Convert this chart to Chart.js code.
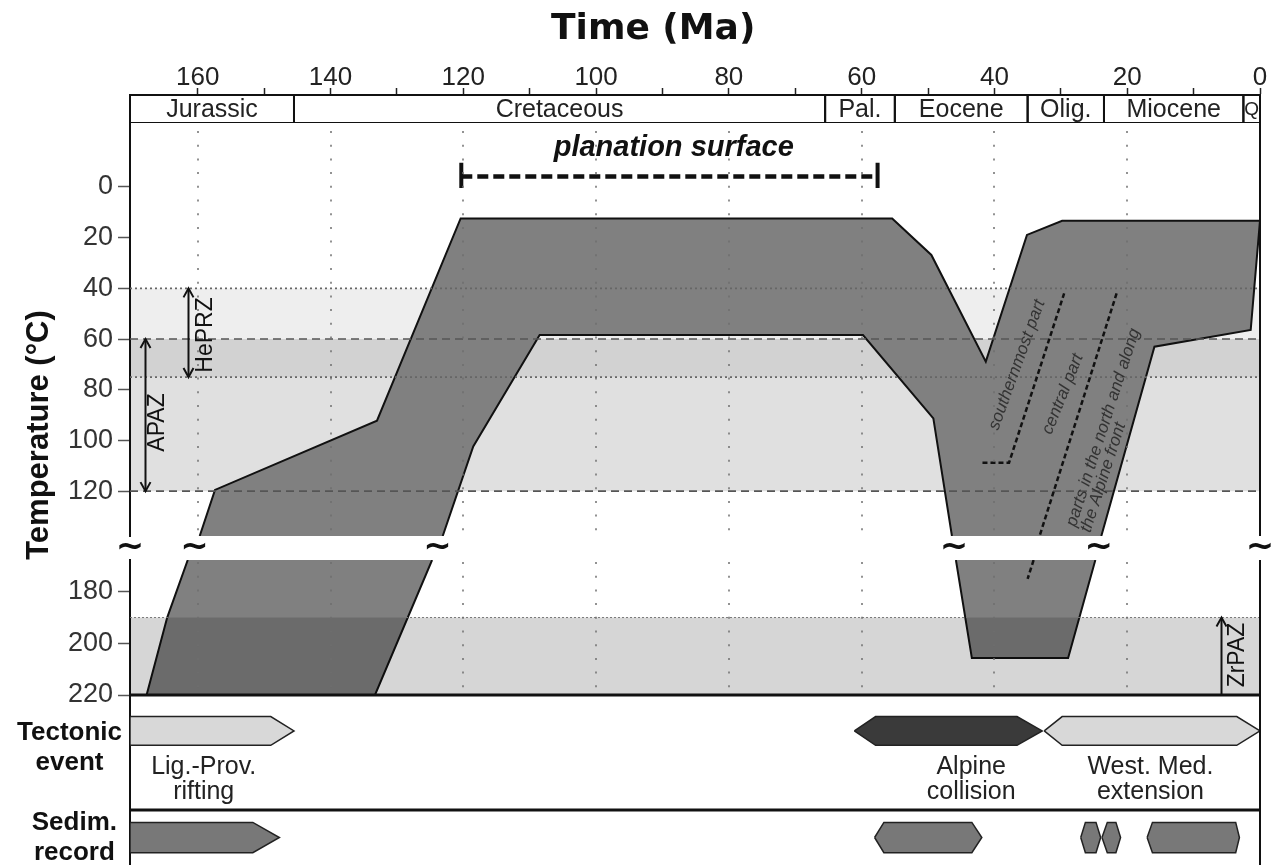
<!DOCTYPE html>
<html>
<head>
<meta charset="utf-8">
<title>Thermal history (Ma / °C)</title>
<script src="https://cdn.jsdelivr.net/npm/chart.js"></script>
<style>
  html, body { margin: 0; padding: 0; background: #fff; }
  #chart { display: block; width: 1273px; height: 865px; }
</style>
</head>
<body>
<canvas id="chart" width="1273" height="865"></canvas>
<script>
// ---- time axis (Ma, reversed) ----
const timeTicks = [0, 10, 20, 30, 40, 50, 60, 70, 80, 90, 100, 110, 120, 130, 140, 150, 160];
const gridMa = [160, 140, 120, 100, 80, 60, 40, 20];

// ---- stratigraphic periods ----
const periodNames = ['Jurassic', 'Cretaceous', 'Pal.', 'Eocene', 'Olig.', 'Miocene', 'Q'];
const periodFrom  = [170.2, 145.5, 65.5, 55, 35, 23.5, 2.5];
const periodTo    = [145.5, 65.5, 55, 35, 23.5, 2.5, 0];

// ---- temperature ticks ----
const tempTicksUpper = [0, 20, 40, 60, 80, 100, 120];
const tempTicksLower = [180, 200, 220];

// ---- partial retention / annealing zones (°C) ----
const zoneNames  = ['HePRZ', 'APAZ', 'ZrPAZ'];
const zoneTop    = [40, 60, 190];
const zoneBottom = [75, 120, 220];
const zoneArrowMa = [161.5, 167.9, 5.8];
const zoneLabelMa = [158.8, 166.1, 3.3];
const zoneLabelT  = [58.4, 92.9, 204.5];

// ---- cooling path, upper panel (Ma / °C) ----
const pathMa = [159.7, 157.4, 133.0, 120.4, 55.4, 49.5, 41.3, 35.1, 29.8, 0, 1.4, 15.9, 23.9,
                46.4, 49.2, 59.8, 108.5, 118.5, 123.1];
const pathT  = [137.7, 119.5, 92.2, 12.4, 12.4, 26.8, 68.9, 18.9, 13.3, 13.3, 56.4, 63.0, 137.7,
                137.7, 91.3, 58.4, 58.4, 102.4, 137.7];
const pathBreak = 13; // outline gap between index 12 and 13 (axis break)

// ---- cooling path, lower panel ----
const lowLeftMa = [124.7, 133.3, 167.7, 164.6, 161.5];
const lowLeftT  = [167.7, 220, 220, 190, 167.7];
const lowAlpMa  = [24.8, 28.9, 43.4, 45.8];
const lowAlpT   = [167.7, 205.7, 205.7, 167.7];

// ---- regional sub-paths (dashed) ----
const southMa = [41.8, 37.8, 29.5];
const southT  = [108.8, 108.8, 42];
const northMa = [21.6, 33.2];
const northT  = [42, 137.7];
const northLowMa = [34.1, 35.0];
const northLowT  = [167.7, 175];
const partLabels = ['southernmost part', 'central part', 'parts in the north and along', 'the Alpine front'];
const partMa  = [36.6, 29.7, 23.6, 23.6];
const partT   = [70.2, 81.7, 94.9, 114.6];
const partRot = [-70, -68, -72, -72];

// ---- planation surface ----
const planMa = [120.3, 57.6];
const planT = -4.1;

// ---- tectonic events: [left tip, left corner, right corner, right tip] ----
const tectShapes = [[170.2, 170.2, 149, 145.5], [61.1, 57.9, 36.6, 32.8], [32.5, 29.8, 3.5, 0]];
const tectColors = ['#d8d8d8', '#3a3a3a', '#d8d8d8'];
const tectLabels = [['Lig.-Prov.', 'rifting'], ['Alpine', 'collision'], ['West. Med.', 'extension']];
const tectLabelMa = [159.1, 43.5, 16.5];

// ---- sedimentary record ----
const sedShapes = [[170.2, 170.2, 151.7, 147.7], [58.05, 56.65, 43.4, 41.9], [27.0, 26.3, 24.7, 24.0],
                   [23.8, 23.0, 21.7, 21.0], [17.0, 16.2, 3.66, 3.1]];

// axis break marks (Ma)
const breakMa = [170.2, 160.5, 123.9, 46.1, 24.3, 0];

const SANS = "'Liberation Sans', Arial, sans-serif";

// ---- helpers ----
const pts = (xs, ys) => xs.map((x, i) => ({ x: x, y: ys[i] }));
const ring = p => p.concat([p[0]]);
const rect = (x0, x1, y0, y1) => [{x: x0, y: y0}, {x: x1, y: y0}, {x: x1, y: y1}, {x: x0, y: y1}, {x: x0, y: y0}];
const hline = (y) => [{x: 170.2, y: y}, {x: 0, y: y}];
function hexagon(h, top, mid, bot){
  return [{x: h[0], y: mid}, {x: h[1], y: top}, {x: h[2], y: top}, {x: h[3], y: mid},
          {x: h[2], y: bot}, {x: h[1], y: bot}, {x: h[0], y: mid}];
}

const datasets = [];
function addSet(yAxisID, data, o){
  datasets.push(Object.assign({
    type: 'line', xAxisID: 'x', yAxisID: yAxisID, data: data,
    pointRadius: 0, pointHoverRadius: 0, borderWidth: 0, fill: false, tension: 0,
    borderColor: '#111', backgroundColor: 'transparent'
  }, o));
}

// zone bands
addSet('yT', rect(170.2, 0, zoneTop[0], zoneBottom[0]), { fill: 'shape', backgroundColor: 'rgba(0,0,0,0.065)', order: 20 });
addSet('yT', rect(170.2, 0, zoneTop[1], zoneBottom[1]), { fill: 'shape', backgroundColor: 'rgba(0,0,0,0.12)', order: 20 });
addSet('yL', rect(170.2, 0, zoneTop[2], zoneBottom[2]), { fill: 'shape', backgroundColor: 'rgba(0,0,0,0.16)', order: 12 });

// main path: fill + outline (outline broken at the axis break)
const mainPts = pts(pathMa, pathT);
addSet('yT', ring(mainPts), { fill: 'shape', backgroundColor: '#808080', order: 16 });
addSet('yT', mainPts.slice(0, pathBreak).concat([{x: 35, y: null}], mainPts.slice(pathBreak)),
       { borderWidth: 2, order: 15 });
addSet('yL', pts(lowLeftMa, lowLeftT), { fill: 'shape', backgroundColor: '#808080', borderWidth: 2, order: 15 });
addSet('yL', pts(lowAlpMa, lowAlpT), { fill: 'shape', backgroundColor: '#808080', borderWidth: 2, order: 15 });

// zone boundary lines
addSet('yT', hline(zoneTop[0]), { borderWidth: 1.6, borderColor: '#666', borderDash: [2, 3], order: 10 });
addSet('yT', hline(zoneBottom[0]), { borderWidth: 1.6, borderColor: '#666', borderDash: [2, 3], order: 10 });
addSet('yT', hline(zoneTop[1]), { borderWidth: 1.6, borderColor: '#555', borderDash: [8, 5], order: 10 });
addSet('yT', hline(zoneBottom[1]), { borderWidth: 1.6, borderColor: '#555', borderDash: [8, 5], order: 10 });
addSet('yL', hline(zoneTop[2]), { borderWidth: 1, borderColor: '#777', borderDash: [2, 2], order: 10 });

// regional sub-paths
addSet('yT', pts(southMa, southT), { borderWidth: 2.5, borderDash: [5, 3], order: 5 });
addSet('yT', pts(northMa, northT), { borderWidth: 2.5, borderDash: [5, 3], order: 5 });
addSet('yL', pts(northLowMa, northLowT), { borderWidth: 2.5, borderDash: [5, 3], order: 5 });

// planation surface bar with end caps
addSet('yT', pts(planMa, [planT, planT]), { borderWidth: 4.5, borderDash: [11, 5], order: 5 });
planMa.forEach(m => addSet('yT', pts([m, m], [-9.6, 0.4]), { borderWidth: 4, order: 5 }));

// period boxes
periodNames.forEach((n, i) => addSet('yP', rect(periodFrom[i], periodTo[i], 0, 1), { borderWidth: 2, order: 5 }));

// tectonic events and sedimentary record
tectShapes.forEach((h, i) => addSet('yE', hexagon(h, 0.75, 1.25, 1.75),
  { fill: 'shape', backgroundColor: tectColors[i], borderColor: '#222', borderWidth: 1.5, order: 5 }));
sedShapes.forEach(h => addSet('yS', hexagon(h, 0.45, 1.0, 1.55),
  { fill: 'shape', backgroundColor: '#787878', borderColor: '#222', borderWidth: 1.5, order: 5 }));

// ---- drawing helpers for the overlay ----
function txt(ctx, s, x, y, font, align, color, rot){
  ctx.save();
  ctx.translate(x, y);
  if(rot) ctx.rotate(rot * Math.PI / 180);
  ctx.font = font;
  ctx.fillStyle = color || '#111';
  ctx.textAlign = align || 'center';
  ctx.textBaseline = 'middle';
  ctx.fillText(s, 0, 0);
  ctx.restore();
}
function seg(ctx, x0, y0, x1, y1){
  ctx.beginPath(); ctx.moveTo(x0, y0); ctx.lineTo(x1, y1); ctx.stroke();
}
function head(ctx, x, y, dir){ // dir -1 = pointing up, 1 = pointing down
  ctx.beginPath(); ctx.moveTo(x - 5, y - dir * 9); ctx.lineTo(x, y); ctx.lineTo(x + 5, y - dir * 9); ctx.stroke();
}

const overlay = {
  id: 'overlay',
  afterDatasetsDraw(chart){
    const {ctx, scales: s, chartArea: a} = chart;
    const X = v => s.x.getPixelForValue(v);
    ctx.save();
    // dotted vertical grid, on top of the paths
    ctx.strokeStyle = 'rgba(110,110,110,0.75)';
    ctx.lineWidth = 2;
    ctx.setLineDash([2, 11.7]);
    gridMa.forEach(v => {
      const x = Math.round(X(v));
      seg(ctx, x, s.yT.top + 8, x, s.yT.bottom);
      seg(ctx, x, s.yL.top + 2, x, s.yL.bottom);
    });
    ctx.setLineDash([]);
    // frame
    ctx.strokeStyle = '#111';
    ctx.lineWidth = 3;
    seg(ctx, a.left, s.yL.bottom, a.right, s.yL.bottom);
    seg(ctx, a.left, s.yE.bottom, a.right, s.yE.bottom);
    ctx.lineWidth = 2;
    seg(ctx, a.right, s.yP.top, a.right, s.yT.bottom);
    seg(ctx, a.right, s.yL.top, a.right, s.yS.bottom);
    ctx.restore();
  },
  afterDraw(chart){
    const {ctx, scales: s} = chart;
    const X = v => s.x.getPixelForValue(v);
    ctx.save();
    // titles
    txt(ctx, 'Time (Ma)', X(91.4), 30, "bold 36px 'DejaVu Sans', sans-serif");
    txt(ctx, 'Temperature (°C)', 39, 435, 'bold 31px ' + SANS, 'center', '#111', -90);

    // period names
    const py = (s.yP.top + s.yP.bottom) / 2 + 1;
    periodNames.forEach((n, i) => {
      const f = n === 'Q' ? '19px ' + SANS : '25px ' + SANS;
      txt(ctx, n, X((periodFrom[i] + periodTo[i]) / 2), py, f, 'center', '#222');
    });

    // planation surface label
    txt(ctx, 'planation surface', X(88.3), s.yT.getPixelForValue(-15.4), 'italic bold 29px ' + SANS);

    // sub-path labels
    partLabels.forEach((l, i) => {
      txt(ctx, l, X(partMa[i]), s.yT.getPixelForValue(partT[i]), 'italic 17px ' + SANS, 'center', '#333', partRot[i]);
    });

    // zone arrows and labels
    ctx.strokeStyle = '#111';
    ctx.lineWidth = 2;
    zoneNames.forEach((z, i) => {
      const sc = i < 2 ? s.yT : s.yL;
      const x = Math.round(X(zoneArrowMa[i])) + 0.5;
      const y0 = sc.getPixelForValue(zoneTop[i]), y1 = sc.getPixelForValue(zoneBottom[i]);
      seg(ctx, x, y0, x, y1);
      head(ctx, x, y0, -1);
      if(i < 2) head(ctx, x, y1, 1);
      txt(ctx, z, X(zoneLabelMa[i]), sc.getPixelForValue(zoneLabelT[i]), '23px ' + SANS, 'center', '#111', -90);
    });

    // tectonic event labels
    tectLabels.forEach((lines, i) => {
      txt(ctx, lines[0], X(tectLabelMa[i]), s.yE.getPixelForValue(2.5), '25px ' + SANS, 'center', '#222');
      txt(ctx, lines[1], X(tectLabelMa[i]), s.yE.getPixelForValue(3.37), '25px ' + SANS, 'center', '#222');
    });

    // axis break marks
    const gy = (s.yG.top + s.yG.bottom) / 2;
    breakMa.forEach(m => txt(ctx, '~', X(m), gy, "bold 34px 'DejaVu Sans', sans-serif", 'center', '#111'));
    ctx.restore();
  }
};

// ---- scales ----
function leftAxis(extra){
  return Object.assign({
    type: 'linear', position: 'left', stack: 'left', offset: false,
    grid: { display: false, drawTicks: false },
    border: { display: true, color: '#111', width: 2 },
    ticks: { display: false },
    afterFit: sc => { sc.width = 130; sc.paddingTop = 0; sc.paddingBottom = 0; }
  }, extra);
}
const tempGrid = { display: true, drawOnChartArea: false, drawTicks: true, tickLength: 12, tickColor: '#555', tickWidth: 1.5 };
const tempTickFont = { display: true, padding: 5, color: '#333', font: { family: SANS, size: 27 } };
const rowFont = { family: SANS, size: 26, weight: 'bold', lineHeight: 1.15 };

new Chart(document.getElementById('chart'), {
  type: 'line',
  data: { datasets: datasets },
  options: {
    responsive: false,
    animation: false,
    devicePixelRatio: 1,
    events: [],
    layout: { padding: { left: 0, right: 13, top: 0, bottom: 0 } },
    plugins: { legend: { display: false }, tooltip: { enabled: false } },
    scales: {
      x: {
        type: 'linear', position: 'top', min: 0, max: 170.2, reverse: true,
        grid: { drawOnChartArea: false, drawTicks: true, tickLength: 7, tickColor: '#222', tickWidth: 1.5 },
        border: { display: true, color: '#111', width: 2 },
        ticks: {
          autoSkip: false, maxRotation: 0, padding: -3, color: '#222',
          font: { family: SANS, size: 26, lineHeight: 1.0 },
          callback: v => (v % 20 === 0 ? String(v) : '')
        },
        afterBuildTicks: sc => { sc.ticks = timeTicks.map(v => ({ value: v })); },
        afterFit: sc => { sc.height = 95; sc.paddingLeft = 0; sc.paddingRight = 0; }
      },
      yP: leftAxis({ weight: 6, stackWeight: 28, min: 0, max: 1 }),
      yT: leftAxis({
        weight: 5, stackWeight: 413, min: -25.25, max: 137.7, reverse: true,
        grid: tempGrid, ticks: tempTickFont,
        afterBuildTicks: sc => { sc.ticks = tempTicksUpper.map(v => ({ value: v })); }
      }),
      yG: leftAxis({ weight: 4, stackWeight: 24, min: 0, max: 1, border: { display: false } }),
      yL: leftAxis({
        weight: 3, stackWeight: 135, min: 167.7, max: 220, reverse: true,
        grid: tempGrid, ticks: tempTickFont,
        afterBuildTicks: sc => { sc.ticks = tempTicksLower.map(v => ({ value: v })); }
      }),
      yE: leftAxis({
        weight: 2, stackWeight: 115, min: 0, max: 4, reverse: true,
        ticks: { display: true, crossAlign: 'center', padding: 8, color: '#111', font: rowFont,
                 callback: () => ['Tectonic', 'event'] },
        afterBuildTicks: sc => { sc.ticks = [{ value: 1.85 }]; }
      }),
      yS: leftAxis({
        weight: 1, stackWeight: 55, min: 0, max: 2, reverse: true,
        ticks: { display: true, crossAlign: 'center', padding: 13, color: '#111', font: rowFont,
                 callback: () => ['Sedim.', 'record'] },
        afterBuildTicks: sc => { sc.ticks = [{ value: 1.0 }]; }
      })
    }
  },
  plugins: [overlay]
});
</script>
</body>
</html>
